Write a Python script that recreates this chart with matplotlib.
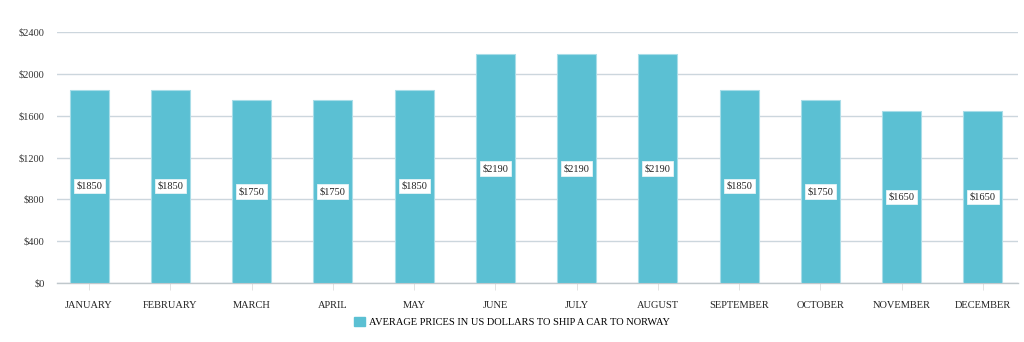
import matplotlib
matplotlib.use('Agg')
import matplotlib.pyplot as plt
from matplotlib.patches import Patch

months = ['JANUARY', 'FEBRUARY', 'MARCH', 'APRIL', 'MAY', 'JUNE', 'JULY',
          'AUGUST', 'SEPTEMBER', 'OCTOBER', 'NOVEMBER', 'DECEMBER']
prices = [1850, 1850, 1750, 1750, 1850, 2190, 2190, 2190, 1850, 1750, 1650, 1650]
yticks = [0, 400, 800, 1200, 1600, 2000, 2400]
series_name = 'AVERAGE PRICES IN US DOLLARS TO SHIP A CAR TO NORWAY'

plt.rcParams['font.family'] = ['Liberation Serif', 'DejaVu Serif']
bar_color = '#5bc0d3'
grid_color = '#ccd6dd'

fig = plt.figure(figsize=(10.24, 3.42), dpi=100)
ax = fig.add_axes([0.0557, 0.1725, 0.9383, 0.7335])

x = range(len(months))
ax.bar(x, prices, width=0.48, color=bar_color, edgecolor='#a8dde8',
       linewidth=0.8, zorder=3)
for i, v in enumerate(prices):
    ax.text(i, v / 2, f'${v}', ha='center', va='center', fontsize=7.5,
            color='#222222', zorder=4,
            bbox=dict(boxstyle='square,pad=0.25', fc='white', ec='#e6f4f7', lw=0.6))

ax.set_xlim(-0.394, 11.43)
ax.set_ylim(0, 2400)
ax.set_yticks(yticks)
ax.set_yticklabels([f'${t}' for t in yticks], fontsize=7.5, color='#333333')
ax.set_xticks(list(x))
ax.set_xticklabels(months, fontsize=7.5, color='#222222')
ax.tick_params(axis='y', length=0, pad=9)
ax.tick_params(axis='x', length=5, width=0.6, color='#dddddd', pad=8)
ax.yaxis.grid(True, color=grid_color, linewidth=1, zorder=0)
for s in ['top', 'right', 'left']:
    ax.spines[s].set_visible(False)
ax.spines['bottom'].set_color('#c0c8cc')
ax.spines['bottom'].set_linewidth(1)

fig.legend(handles=[Patch(facecolor=bar_color, edgecolor=bar_color, label=series_name)],
           loc='center', bbox_to_anchor=(0.5, 0.058), frameon=False,
           fontsize=7.5, handlelength=1.0, handleheight=1.0, handletextpad=0.4)

fig.savefig('out.png', dpi=100)
